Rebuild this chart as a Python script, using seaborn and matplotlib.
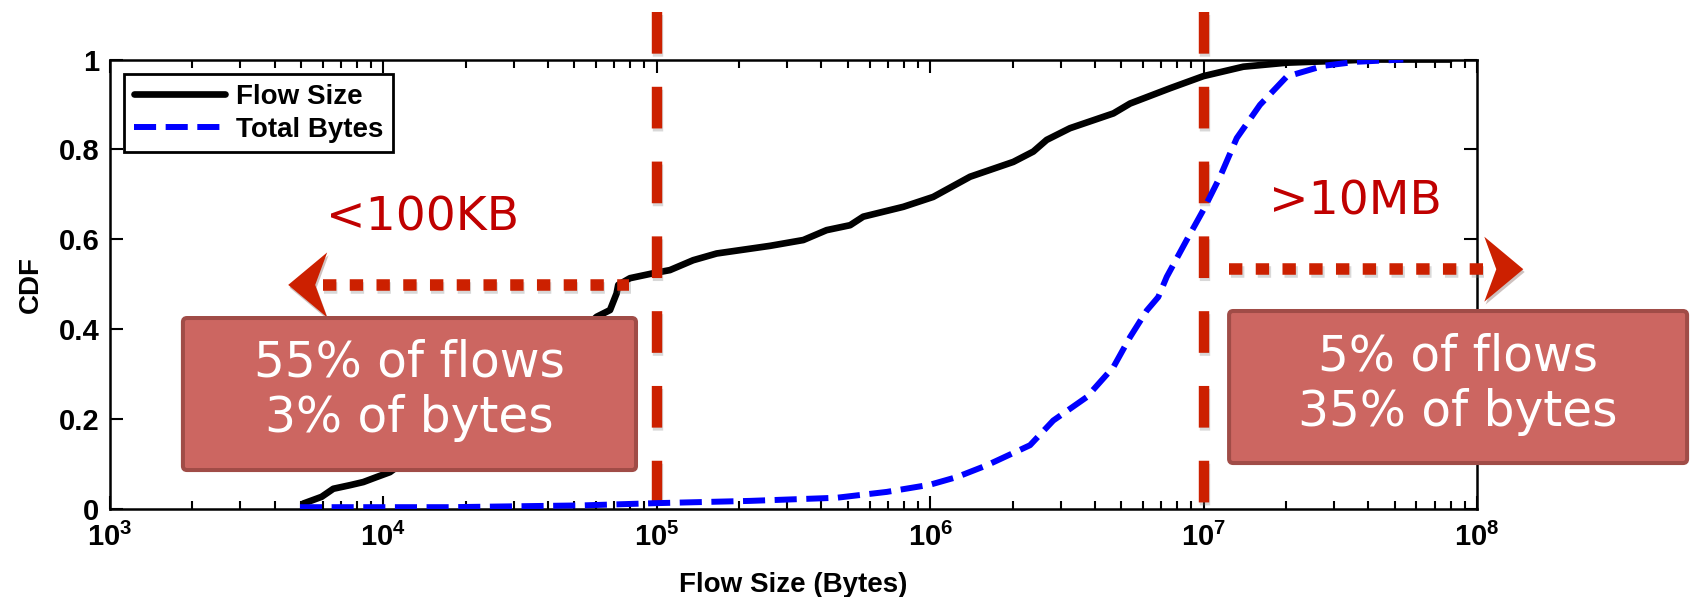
import numpy as np
import matplotlib.pyplot as plt
import matplotlib.patheffects as pe
import matplotlib.transforms as mtransforms
from matplotlib.patches import Polygon, FancyBboxPatch
import seaborn as sns

SET_DPI = 100
FIGSIZE = (16.91, 5.97)

# log10(flow size in bytes) vs CDF
flow_size_log = [3.707, 3.774, 3.817, 3.878, 3.927, 3.975, 4.024, 4.2, 4.4, 4.6,
                 4.75, 4.78, 4.829, 4.853, 4.859, 4.902, 4.987, 5.048, 5.133,
                 5.219, 5.414, 5.536, 5.621, 5.707, 5.755, 5.902, 6.011, 6.146,
                 6.304, 6.377, 6.426, 6.511, 6.670, 6.731, 6.877, 6.999, 7.145,
                 7.304, 7.487, 7.6, 7.9]
flow_size_cdf = [0.011, 0.026, 0.044, 0.052, 0.059, 0.070, 0.081, 0.16, 0.25, 0.33,
                 0.41, 0.427, 0.442, 0.479, 0.498, 0.513, 0.524, 0.531, 0.553,
                 0.568, 0.585, 0.598, 0.620, 0.631, 0.650, 0.672, 0.694, 0.739,
                 0.772, 0.795, 0.821, 0.847, 0.880, 0.902, 0.936, 0.963, 0.984,
                 0.993, 0.997, 1.0, 1.0]

total_bytes_log = [3.695, 4.244, 4.731, 5.0, 5.341, 5.658, 5.841, 5.999, 6.097,
                   6.206, 6.365, 6.450, 6.572, 6.670, 6.731, 6.792, 6.834, 6.865,
                   6.938, 6.999, 7.060, 7.121, 7.206, 7.304, 7.438, 7.56, 7.73]
total_bytes_cdf = [0.003, 0.003, 0.007, 0.012, 0.017, 0.024, 0.037, 0.053, 0.070,
                   0.096, 0.141, 0.196, 0.248, 0.315, 0.382, 0.441, 0.471, 0.516,
                   0.598, 0.665, 0.739, 0.825, 0.899, 0.962, 0.986, 0.995, 1.0]

x_ticks = [1e3, 1e4, 1e5, 1e6, 1e7, 1e8]
x_tick_labels = [r'$\mathbf{10^{3}}$', r'$\mathbf{10^{4}}$', r'$\mathbf{10^{5}}$',
                 r'$\mathbf{10^{6}}$', r'$\mathbf{10^{7}}$', r'$\mathbf{10^{8}}$']
y_ticks = [0, 0.2, 0.4, 0.6, 0.8, 1]
y_tick_labels = ['0', '0.2', '0.4', '0.6', '0.8', '1']

cutoffs = [1e5, 1e7]
small_label = '<100KB'
large_label = '>10MB'
small_box_lines = ['55% of flows', '3% of bytes']
large_box_lines = ['5% of flows', '35% of bytes']

# arrows: dotted shaft (start, end) and tip, in data units
small_shaft_x = [10**3.778, 10**4.900]
small_shaft_y = 0.498
small_tip_x = 10**3.652
large_shaft_x = [10**7.094, 10**8.021]
large_shaft_y = 0.533
large_tip_x = 10**8.169

RED = '#CC2000'
TEXT_RED = '#C00000'
BOX_FILL = '#CC6661'
BOX_EDGE = '#A04C47'

sns.set_theme(style='white')
plt.rcParams['font.family'] = ['Liberation Sans', 'DejaVu Sans']
plt.rcParams['mathtext.fontset'] = 'custom'
plt.rcParams['mathtext.rm'] = 'Liberation Sans'
plt.rcParams['mathtext.bf'] = 'Liberation Sans:bold'
plt.rcParams['axes.edgecolor'] = 'black'
plt.rcParams['axes.linewidth'] = 1.8
plt.rcParams['text.color'] = 'black'
plt.rcParams['axes.labelcolor'] = 'black'
plt.rcParams['xtick.color'] = 'black'
plt.rcParams['ytick.color'] = 'black'

fig = plt.figure(figsize=FIGSIZE, dpi=SET_DPI)
ax = fig.add_axes([0.0650, 0.1482, 0.8085, 0.7521])
ax.set_xscale('log')

shadow = [pe.SimpleLineShadow(offset=(1, -2), alpha=0.3, shadow_color='gray'),
          pe.Normal()]

sns.lineplot(x=10**np.array(flow_size_log), y=flow_size_cdf, ax=ax,
             color='black', linewidth=4.8, label='Flow Size', zorder=2)
flow_line = ax.lines[-1]
sns.lineplot(x=10**np.array(total_bytes_log), y=total_bytes_cdf, ax=ax,
             color='#0000FF', linewidth=4.3, linestyle=(0, (3.7, 1.6)),
             label='Total Bytes', zorder=4)
bytes_line = ax.lines[-1]

# red dashed cut-off lines, reaching above the axes
for c in cutoffs:
    ax.plot([c, c], [1.106, 0], color=RED, lw=7.5,
            linestyle=(0, (4.0, 3.18)), solid_capstyle='butt',
            clip_on=False, zorder=3, path_effects=shadow)

# dotted arrow shafts
ax.plot(small_shaft_x, [small_shaft_y] * 2, color=RED, lw=8.3,
        linestyle=(0, (1.16, 1.16)), clip_on=False, zorder=6,
        path_effects=shadow)
ax.plot(large_shaft_x, [large_shaft_y] * 2, color=RED, lw=8.3,
        linestyle=(0, (1.16, 1.16)), clip_on=False, zorder=6,
        path_effects=shadow)


def arrow_head(x, y, d):
    # d = +1 points left, -1 points right; vertices in pixels around the tip
    verts = [(0, 0), (d * 39, 32.5), (d * 27, 0), (d * 39, -32.5)]
    trans = mtransforms.Affine2D() + mtransforms.ScaledTranslation(x, y, ax.transData)
    head = Polygon(verts, closed=True, transform=trans, facecolor=RED,
                   edgecolor='none', clip_on=False, zorder=6,
                   path_effects=[pe.SimplePatchShadow(offset=(1, -2), alpha=0.25),
                                 pe.Normal()])
    ax.add_patch(head)


arrow_head(small_tip_x, small_shaft_y, 1)
arrow_head(large_tip_x, large_shaft_y, -1)


def note_box(x0, y0, x1, y1, lines, cx, baselines):
    box = FancyBboxPatch((x0, y0), x1 - x0, y1 - y0,
                         boxstyle='round,pad=0,rounding_size=0.003',
                         mutation_aspect=1367 / 449, transform=ax.transAxes,
                         facecolor=BOX_FILL, edgecolor=BOX_EDGE, linewidth=2.9,
                         clip_on=False, zorder=7)
    ax.add_patch(box)
    for txt, yb in zip(lines, baselines):
        ax.text(cx, yb, txt, transform=ax.transAxes, ha='center', va='baseline',
                color='white', fontsize=35, family='DejaVu Sans',
                fontweight='normal', zorder=8, clip_on=False)


note_box(0.0534, 0.0857, 0.3848, 0.4243, small_box_lines, 0.219, [0.293, 0.170])
note_box(0.8186, 0.1013, 1.1536, 0.4399, large_box_lines, 0.986, [0.308, 0.184])

ax.text(0.229, 0.620, small_label, transform=ax.transAxes, ha='center',
        va='baseline', color=TEXT_RED, fontsize=34, family='DejaVu Sans',
        fontweight='normal')
ax.text(0.911, 0.654, large_label, transform=ax.transAxes, ha='center',
        va='baseline', color=TEXT_RED, fontsize=34, family='DejaVu Sans',
        fontweight='normal', clip_on=False)

ax.set_xlim(1e3, 1e8)
ax.set_ylim(0, 1)
ax.set_xticks(x_ticks)
ax.set_xticklabels(x_tick_labels, fontsize=21)
ax.set_yticks(y_ticks)
ax.set_yticklabels(y_tick_labels, fontsize=21, fontweight='bold')
ax.tick_params(axis='x', which='major', direction='in', length=9.6, width=1.5,
               bottom=True, top=True, pad=10.5, colors='black')
ax.tick_params(axis='y', which='major', direction='in', length=9.6, width=1.5,
               left=True, right=True, pad=7.5, colors='black')
ax.tick_params(axis='x', which='minor', direction='in', length=5.5, width=1.5,
               bottom=True, top=True, colors='black')
for side in ax.spines.values():
    side.set_visible(True)
    side.set_color('black')
    side.set_linewidth(1.8)

ax.set_xlabel('Flow Size (Bytes)', fontsize=20, fontweight='bold', color='black')
ax.xaxis.set_label_coords(0.5, -0.142)
ax.set_ylabel('CDF', fontsize=20, fontweight='bold', color='black')
ax.yaxis.set_label_coords(-0.048, 0.5)

leg = ax.legend(handles=[flow_line, bytes_line], labels=['Flow Size', 'Total Bytes'],
                loc='upper left', bbox_to_anchor=(0.0102, 0.9677),
                borderaxespad=0, fancybox=False, shadow=False, framealpha=1,
                edgecolor='black',
                prop={'family': 'Liberation Sans', 'weight': 'bold', 'size': 20},
                handlelength=3.3, handletextpad=0.4, labelspacing=0.25,
                borderpad=0.35)
leg.get_frame().set_linewidth(2)
leg.set_zorder(10)
for t in leg.get_texts():
    t.set_color('black')

fig.savefig('out.png', dpi=SET_DPI)
